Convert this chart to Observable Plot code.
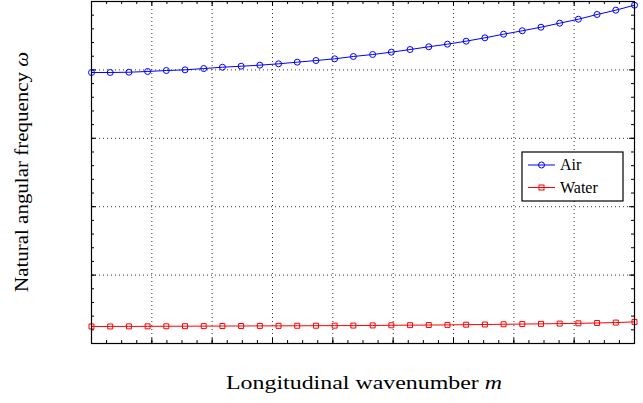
<!DOCTYPE html>
<html>
<head>
<meta charset="utf-8">
<script src="https://cdn.jsdelivr.net/npm/d3@7"></script>
<script src="https://cdn.jsdelivr.net/npm/@observablehq/plot@0.6"></script>
<style>
  html, body { margin: 0; padding: 0; background: #fff; }
  svg { display: block; }
</style>
</head>
<body>
<div id="chart"></div>
<script>
// Wavenumber positions (30 samples across the axis)
const m = [0, 0.31, 0.62, 0.93, 1.24, 1.55, 1.86, 2.17, 2.48, 2.79,
           3.10, 3.41, 3.72, 4.03, 4.34, 4.66, 4.97, 5.28, 5.59, 5.90,
           6.21, 6.52, 6.83, 7.14, 7.45, 7.76, 8.07, 8.38, 8.69, 9.00];
const air = [3.962, 3.962, 3.966, 3.977, 3.991, 4.001, 4.020, 4.039, 4.054, 4.069,
             4.089, 4.113, 4.137, 4.162, 4.196, 4.225, 4.259, 4.298, 4.338, 4.376,
             4.420, 4.469, 4.522, 4.572, 4.624, 4.683, 4.741, 4.810, 4.873, 4.946];
const water = [0.249, 0.249, 0.250, 0.251, 0.252, 0.253, 0.254, 0.255, 0.256, 0.257,
               0.258, 0.259, 0.260, 0.261, 0.262, 0.264, 0.266, 0.268, 0.270, 0.272,
               0.275, 0.278, 0.281, 0.284, 0.287, 0.291, 0.295, 0.300, 0.306, 0.316];
const seriesNames = ["Air", "Water"];
const xMajor = [0, 1, 2, 3, 4, 5, 6, 7, 8, 9];
const yMajor = [0, 1, 2, 3, 4, 5];
const xMinor = d3.range(0, 9.001, 0.25);
const yMinor = d3.range(0, 5.001, 0.2);
const xLabel = "Longitudinal wavenumber ";
const xLabelVar = "m";
const yLabel = "Natural angular frequency ";
const yLabelVar = "ω";

const airData = m.map((x, i) => ({x, y: air[i]}));
const waterData = m.map((x, i) => ({x, y: water[i]}));

const W = 643, H = 403;
const mL = 91, mR = 9, mT = 1, mB = 60;
const ph = H - mT - mB;
const pw = W - mL - mR;
const font = "'Liberation Serif', 'DejaVu Serif', serif";

const plot = Plot.plot({
  width: W, height: H,
  marginLeft: mL, marginRight: mR, marginTop: mT, marginBottom: mB,
  x: {domain: [0, 9], axis: null},
  y: {domain: [0, 5], axis: null},
  style: {background: "#fff"},
  marks: [
    Plot.gridX(xMajor.slice(1, -1), {stroke: "#222", strokeOpacity: 0.9, strokeDasharray: "1,3"}),
    Plot.gridY(yMajor.slice(1, -1), {stroke: "#222", strokeOpacity: 0.9, strokeDasharray: "1,3"}),
    // minor ticks (inward)
    Plot.tickX(xMinor, {x: d => d, insetTop: ph - 3, stroke: "#000"}),
    Plot.tickX(xMinor, {x: d => d, insetBottom: ph - 3, stroke: "#000"}),
    Plot.tickY(yMinor, {y: d => d, insetRight: pw - 3, stroke: "#000"}),
    Plot.tickY(yMinor, {y: d => d, insetLeft: pw - 3, stroke: "#000"}),
    // major ticks (inward)
    Plot.tickX(xMajor, {x: d => d, insetTop: ph - 5, stroke: "#000"}),
    Plot.tickX(xMajor, {x: d => d, insetBottom: ph - 5, stroke: "#000"}),
    Plot.tickY(yMajor, {y: d => d, insetRight: pw - 5, stroke: "#000"}),
    Plot.tickY(yMajor, {y: d => d, insetLeft: pw - 5, stroke: "#000"}),
    Plot.line(airData, {x: "x", y: "y", stroke: "#0000ff", strokeWidth: 1}),
    Plot.dot(airData, {x: "x", y: "y", stroke: "#0000ff", r: 3, strokeWidth: 1}),
    Plot.line(waterData, {x: "x", y: "y", stroke: "#ff0000", strokeWidth: 1}),
    Plot.dot(waterData, {x: "x", y: "y", stroke: "#ff0000", symbol: "square", r: 2.8, strokeWidth: 1}),
    Plot.frame({stroke: "#000", strokeWidth: 1.2})
  ]
});

document.getElementById("chart").appendChild(plot);
const svg = d3.select(plot);

// X label
const xl = svg.append("text")
  .attr("x", 364).attr("y", 389)
  .attr("text-anchor", "middle")
  .attr("textLength", 276).attr("lengthAdjust", "spacingAndGlyphs")
  .style("font-family", font).style("font-size", "19px").attr("fill", "#000");
xl.append("tspan").text(xLabel);
xl.append("tspan").style("font-style", "italic").text(xLabelVar);

// Y label
const yl = svg.append("text")
  .attr("transform", `translate(28,172) rotate(-90)`)
  .attr("text-anchor", "middle")
  .attr("textLength", 240).attr("lengthAdjust", "spacingAndGlyphs")
  .style("font-family", font).style("font-size", "19px").attr("fill", "#000");
yl.append("tspan").text(yLabel);
yl.append("tspan").style("font-style", "italic").text(yLabelVar);

// Legend
const lg = svg.append("g").attr("transform", "translate(522,152)");
lg.append("rect").attr("width", 101).attr("height", 49)
  .attr("fill", "#fff").attr("stroke", "#000").attr("stroke-width", 1.2);
const colors = ["#0000ff", "#ff0000"];
seriesNames.forEach((name, i) => {
  const cy = 13 + i * 22.5;
  lg.append("line").attr("x1", 6).attr("x2", 33).attr("y1", cy).attr("y2", cy)
    .attr("stroke", colors[i]).attr("stroke-width", 1);
  if (i === 0) {
    lg.append("circle").attr("cx", 19.5).attr("cy", cy).attr("r", 3)
      .attr("fill", "none").attr("stroke", colors[i]);
  } else {
    lg.append("rect").attr("x", 17).attr("y", cy - 2.5).attr("width", 5).attr("height", 5)
      .attr("fill", "none").attr("stroke", colors[i]);
  }
  lg.append("text").attr("x", 38).attr("y", cy + 5)
    .attr("text-anchor", "start")
    .style("font-family", font).style("font-size", "16px").attr("fill", "#000")
    .text(name);
});
</script>
</body>
</html>
